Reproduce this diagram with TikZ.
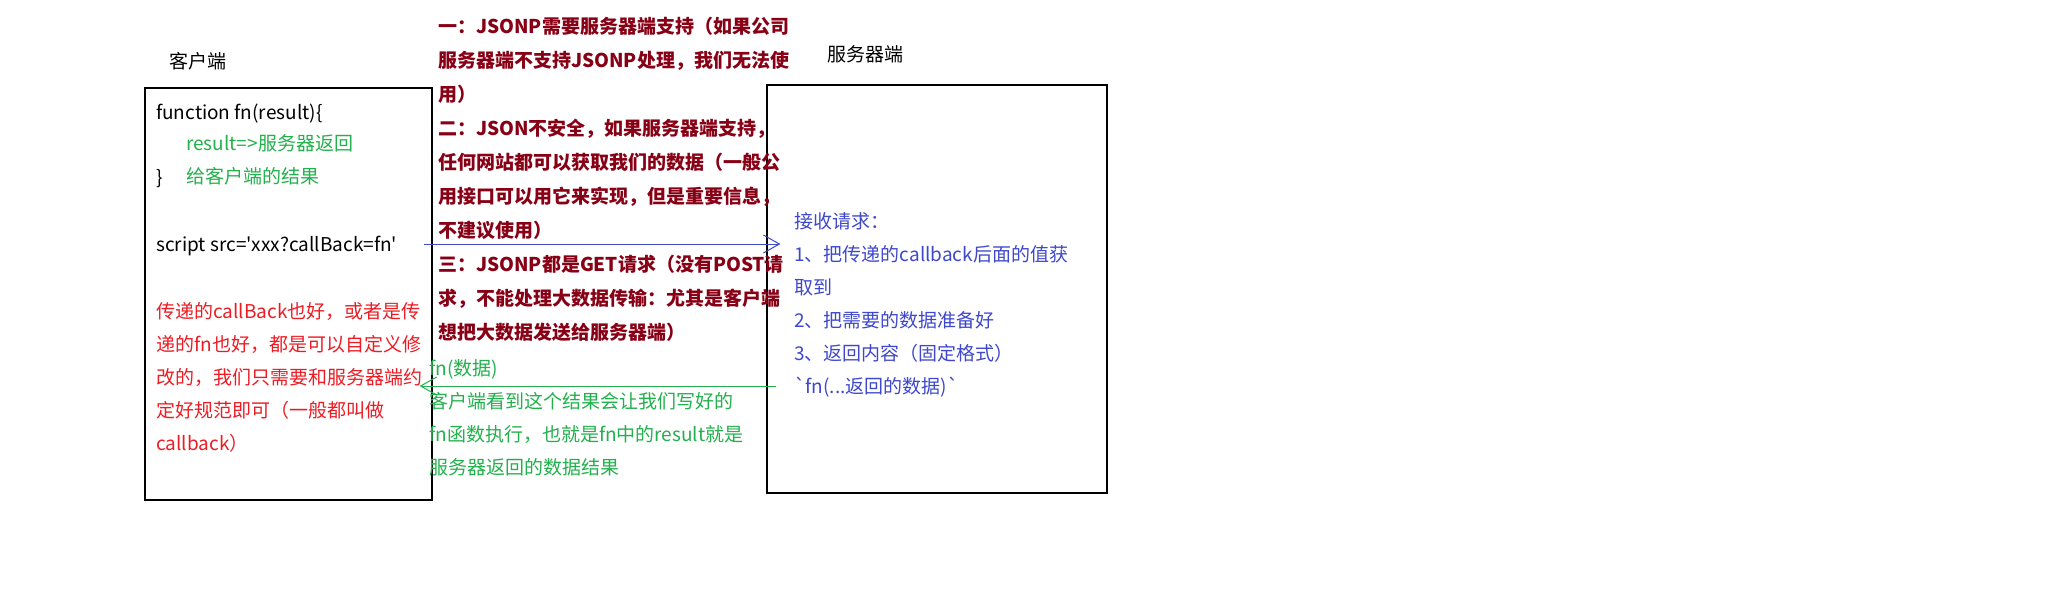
\documentclass[tikz,border=0pt]{standalone}
\usepackage{fontspec}
\setmainfont{Noto Sans CJK SC}[Ligatures=TeXOff]
\usetikzlibrary{arrows.meta}
\definecolor{pdark}{HTML}{880015}
\definecolor{pred}{HTML}{ED1C24}
\definecolor{pgreen}{HTML}{22B14C}
\definecolor{pblue}{HTML}{3F48CC}
\newcommand\tlines[1]{\begin{tabular}[t]{@{}l@{}}#1\end{tabular}}
\tikzset{
  txt/.style={inner sep=0pt, anchor=base west, font=\fontsize{14.25}{24.75}\selectfont},
  darktxt/.style={txt, text=pdark, font=\fontsize{14.25}{25.5}\selectfont\bfseries},
  box/.style={draw=black, line width=0.9pt, inner sep=0pt},
  conn/.style={line width=0.75pt, -{Straight Barb[length=12pt, width=13.5pt, line width=0.75pt]}}
}
\begin{document}
\begin{tikzpicture}[x=0.75pt, y=-0.75pt]
\useasboundingbox (0,0) rectangle (2046,615);
\fill[white] (0,0) rectangle (2046,615);

% boxes
\node[box, minimum width=215.25pt, minimum height=309pt] (client) at (288.5,294) {};
\node[box, minimum width=255pt, minimum height=306pt] (server) at (937,289) {};

% titles
\node[txt] (clientlabel) at (169,68) {客户端};
\node[txt] (serverlabel) at (827,61) {服务器端};

% client code
\node[txt] (fnhead) at (156,119) {function fn(result)\{};
\node[txt, text=pgreen] (fnbody) at (186,150) {\tlines{result=>服务器返回\\给客户端的结果}};
\node[txt] (fnclose) at (156,184) {\}};
\node[txt] (script) at (156,251) {script src='xxx?callBack=fn'};
\node[txt, text=pred] (note) at (156,318)
  {\tlines{传递的callBack也好，或者是传\\递的fn也好，都是可以自定义修\\改的，我们只需要和服务器端约\\定好规范即可（一般都叫做\\callback）}};

% dark red notes
\node[darktxt] (notes) at (438,33)
  {\tlines{一：JSONP需要服务器端支持（如果公司\\服务器端不支持JSONP处理，我们无法使\\用）\\二：JSON不安全，如果服务器端支持，\\任何网站都可以获取我们的数据（一般公\\用接口可以用它来实现，但是重要信息，\\不建议使用）\\三：JSONP都是GET请求（没有POST请\\求，不能处理大数据传输：尤其是客户端\\想把大数据发送给服务器端）}};

% green response text
\node[txt, text=pgreen] (resp) at (429,375) {fn(数据)};
\node[txt, text=pgreen] (respnote) at (429,408)
  {\tlines{客户端看到这个结果会让我们写好的\\fn函数执行，也就是fn中的result就是\\服务器返回的数据结果}};

% server text
\node[txt, text=pblue] (steps) at (794,228)
  {\tlines{接收请求：\\1、把传递的callback后面的值获\\取到\\2、把需要的数据准备好\\3、返回内容（固定格式）\\`fn(...返回的数据)`}};

% connectors
\coordinate (reqy) at (0,244);
\coordinate (resy) at (0,386);
\draw[conn, pblue] ([xshift=-6.75pt]client.east |- reqy) -- ([xshift=10.5pt]server.west |- reqy);
\draw[conn, pgreen] ([xshift=7.5pt]server.west |- resy) -- ([xshift=-9.75pt]client.east |- resy);
\end{tikzpicture}
\end{document}
